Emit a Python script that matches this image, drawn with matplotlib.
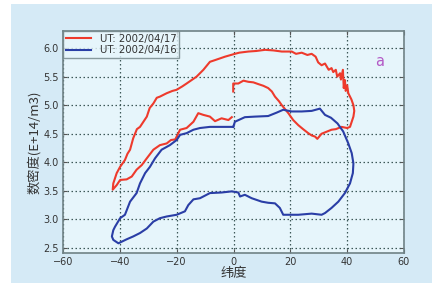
import matplotlib
matplotlib.use("Agg")
import matplotlib.pyplot as plt
from matplotlib.patches import Rectangle

plt.rcParams['font.family'] = ['DejaVu Sans', 'Noto Sans CJK SC']

# 2002/04/17 (red)
red_lat = [-0.1, -0.1, 1.7, 3.5, 5.2, 7.0, 8.7, 10.5, 12.2, 13.5, 14.6, 16.0, 17.0,
           19.3, 21.0, 22.8, 24.5, 26.3, 27.5, 28.7, 29.5,
           31.0, 32.5, 34.5, 36.0, 38.0, 40.0, 41.0, 42.2, 42.5, 42.2, 41.5, 40.4,
           40.0, 39.5, 39.2, 38.8,
           38.5, 37.8, 37.5, 36.5, 36.0, 35.1, 34.5, 33.5, 32.2, 31.0, 29.8, 28.9,
           27.5, 26.0, 24.0, 22.0, 20.5, 17.0, 14.0, 11.1, 8.0, 5.2, 2.0, 0.5,
           -3.0, -6.5, -8.3, -10.6, -13.0, -16.5, -18.0, -20.0, -21.5, -23.5,
           -25.9, -27.0, -28.2, -29.5, -30.5,
           -32.9, -34.0, -35.3, -36.4, -37.3, -38.2, -39.9, -41.1, -42.3, -42.5,
           -41.1, -39.9, -37.6, -35.8, -34.1, -32.3, -30.5, -28.2, -25.9, -23.5,
           -22.0, -20.5, -18.8, -16.5, -14.1, -12.4, -10.6, -8.3, -6.5, -4.2,
           -1.8, -0.6]
red_dens = [5.24, 5.38, 5.38, 5.43, 5.41, 5.40, 5.37, 5.34, 5.30, 5.24, 5.15, 5.07,
            5.00, 4.86, 4.74, 4.65, 4.58, 4.51, 4.47, 4.45, 4.41,
            4.50, 4.53, 4.57, 4.58, 4.62, 4.60, 4.62, 4.80, 4.90, 5.00, 5.10, 5.21,
            5.35, 5.25, 5.44, 5.30,
            5.62, 5.45, 5.56, 5.50, 5.62, 5.58, 5.65, 5.62, 5.73, 5.70, 5.75, 5.85,
            5.90, 5.88, 5.92, 5.90, 5.94, 5.94, 5.96, 5.97, 5.95, 5.94, 5.92, 5.90,
            5.85, 5.79, 5.76, 5.62, 5.50, 5.38, 5.33, 5.27, 5.25, 5.21,
            5.15, 5.13, 5.03, 4.95, 4.80,
            4.62, 4.58, 4.42, 4.22, 4.15, 4.04, 3.92, 3.81, 3.63, 3.52,
            3.60, 3.69, 3.70, 3.75, 3.87, 3.95, 4.07, 4.22, 4.30, 4.33,
            4.39, 4.40, 4.57, 4.60, 4.71, 4.86, 4.83, 4.80, 4.72, 4.77,
            4.74, 4.79]

# 2002/04/16 (blue)
blue_lat = [-0.1, 0.5, 4.0, 7.6, 12.2, 15.2, 17.5, 20.5, 24.0, 27.5, 30.4, 32.2,
            34.3, 36.6, 38.6, 40.4, 41.6, 42.2, 42.0, 41.0, 39.2, 36.9, 34.5, 32.2,
            31.0, 27.5, 22.8, 17.5, 16.3, 14.6, 12.2, 9.9, 6.4, 4.0, 2.3, 1.7, -0.6,
            -4.2, -8.3, -11.8, -14.1, -15.9, -17.1, -20.0, -23.5, -25.9, -28.2,
            -30.5, -32.9, -35.3, -37.6, -40.5, -42.3, -42.8, -42.3, -41.7, -39.9,
            -38.2, -36.4, -34.1, -32.9, -31.1, -29.4, -27.6, -25.3, -22.4, -20.0,
            -18.8, -16.5, -14.1, -11.8, -8.3, -4.8, -0.1]
blue_dens = [4.62, 4.71, 4.79, 4.80, 4.81, 4.87, 4.92, 4.89, 4.89, 4.90, 4.94, 4.83,
             4.78, 4.68, 4.54, 4.33, 4.16, 3.98, 3.81, 3.63, 3.46, 3.31, 3.20, 3.11,
             3.08, 3.10, 3.08, 3.08, 3.20, 3.28, 3.29, 3.31, 3.37, 3.43, 3.40, 3.47, 3.49,
             3.47, 3.46, 3.37, 3.35, 3.25, 3.14, 3.08, 3.05, 3.02, 2.96,
             2.84, 2.76, 2.70, 2.65, 2.58, 2.64, 2.70, 2.81, 2.87, 3.02,
             3.08, 3.31, 3.46, 3.63, 3.81, 3.92, 4.07, 4.22, 4.30, 4.39,
             4.48, 4.51, 4.57, 4.60, 4.62, 4.62, 4.62]

x_ticks = [-60, -40, -20, 0, 20, 40, 60]
y_ticks = [2.5, 3.0, 3.5, 4.0, 4.5, 5.0, 5.5, 6.0]
labels = ['UT: 2002/04/17', 'UT: 2002/04/16']
cjk = ['Noto Sans CJK SC', 'DejaVu Sans']

fig = plt.figure(figsize=(4.32, 2.85), dpi=100)
fig.patch.set_facecolor('white')
fig.patches.append(Rectangle((11 / 432, 2 / 285), 421 / 432, 279 / 285,
                             transform=fig.transFigure, facecolor='#d5eaf6',
                             edgecolor='none', zorder=-10))

ax = fig.add_axes([63 / 432, 32 / 285, 341 / 432, 222 / 285])
ax.set_facecolor('#e6f5fb')

ax.plot(red_lat, red_dens, color='#ee3a2c', lw=1.5, label=labels[0])
ax.plot(blue_lat, blue_dens, color='#2a3ea6', lw=1.5, label=labels[1])

ax.set_xlim(-60, 60)
ax.set_ylim(2.41, 6.3)
ax.set_xticks(x_ticks)
ax.set_yticks(y_ticks)
ax.set_yticklabels([f'{v:.1f}' for v in y_ticks])
ax.grid(True, color='#3d5858', linestyle=(0, (1.2, 2.0)), linewidth=0.9)
ax.tick_params(direction='in', top=True, right=True, length=3, width=0.8,
               labelsize=7, labelcolor='#333333', color='#555555', pad=3)
for s in ax.spines.values():
    s.set_color('#6f8286')
    s.set_linewidth(1.2)

ax.set_xlabel('纬度', family=cjk, fontsize=9.5, color='#333333', labelpad=0)
ax.set_ylabel('数密度(E+14/m3)', family=cjk, fontsize=9.5, color='#333333',
              labelpad=2)

ax.text(51.5, 5.76, 'a', color='#b35ac6', fontsize=10.5, ha='center', va='center')

leg = ax.legend(loc='upper left', fontsize=7.3, frameon=True, fancybox=False,
                borderaxespad=0, handlelength=2.5, handletextpad=0.8,
                borderpad=0.3, labelspacing=0.1, labelcolor='#333333')
leg.get_frame().set_edgecolor('#6f8286')
leg.get_frame().set_facecolor('#e6f5fb')
leg.get_frame().set_linewidth(1.0)

fig.savefig('out.png', dpi=100, facecolor=fig.get_facecolor())
